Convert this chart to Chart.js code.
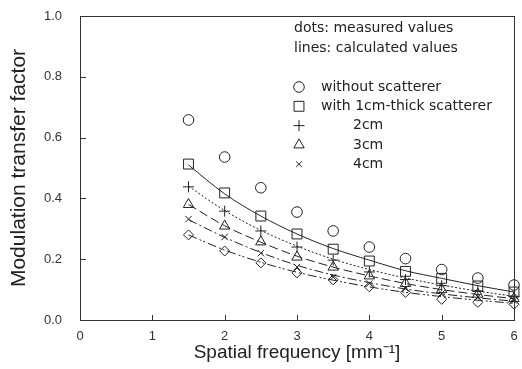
<!DOCTYPE html>
<html>
<head>
<meta charset="utf-8">
<script src="https://cdn.jsdelivr.net/npm/chart.js@4/dist/chart.umd.min.js"></script>
<style>
  html, body { margin: 0; padding: 0; background: #fff; }
  #wrap { position: relative; width: 522px; height: 369px; }
  #mtfChart { position: absolute; left: 0; top: 0; }
  #box { position: absolute; box-sizing: border-box; border: 1px solid #333; pointer-events: none; }
</style>
</head>
<body>
<div id="wrap">
  <canvas id="mtfChart" width="522" height="369"></canvas>
  <div id="box"></div>
</div>
<script>
// spatial frequency [mm^-1]
var freq = [1.5, 2, 2.5, 3, 3.5, 4, 4.5, 5, 5.5, 6];

// measured values
var measNone    = [0.658, 0.536, 0.435, 0.355, 0.293, 0.240, 0.202, 0.166, 0.138, 0.115];
var meas1cm     = [0.513, 0.418, 0.342, 0.283, 0.233, 0.194, 0.160, 0.137, 0.112, 0.092];
var meas2cm     = [0.438, 0.358, 0.293, 0.240, 0.197, 0.158, 0.133, 0.113, 0.094, 0.078];
var meas3cm     = [0.380, 0.309, 0.257, 0.207, 0.174, 0.145, 0.120, 0.100, 0.085, 0.071];
var meas4cm     = [0.332, 0.273, 0.220, 0.174, 0.141, 0.120, 0.104, 0.088, 0.076, 0.064];
var measDiamond = [0.280, 0.227, 0.188, 0.155, 0.132, 0.109, 0.091, 0.068, 0.058, 0.052];

// calculated values
var calc1cm     = [0.510, 0.415, 0.342, 0.283, 0.235, 0.197, 0.162, 0.137, 0.113, 0.092];
var calc2cm     = [0.440, 0.360, 0.295, 0.243, 0.200, 0.166, 0.138, 0.115, 0.095, 0.078];
var calc3cm     = [0.380, 0.310, 0.256, 0.210, 0.174, 0.145, 0.120, 0.100, 0.084, 0.070];
var calc4cm     = [0.330, 0.272, 0.222, 0.180, 0.148, 0.123, 0.102, 0.086, 0.073, 0.062];
var calcDiamond = [0.280, 0.230, 0.190, 0.157, 0.131, 0.109, 0.091, 0.077, 0.065, 0.055];

var xTicks = [0, 1, 2, 3, 4, 5, 6];
var yTicks = [0.0, 0.2, 0.4, 0.6, 0.8, 1.0];

var legendHead = ['dots: measured values', 'lines: calculated values'];
var legendText = ['without scatterer', 'with 1cm-thick scatterer', '2cm', '3cm', '4cm'];
var legendMarks = ['circle', 'rect', 'cross', 'triangle', 'crossRot'];
var legendSizes = [5.3, 7, 5.5, 6, 4];

var INK = '#222';
var AXIS = '#333';
var SANS = '"Liberation Sans", Arial, sans-serif';
var WIDE = '"DejaVu Sans", sans-serif';

function pts(values) {
  return values.map(function(v, i) { return { x: freq[i], y: v }; });
}

function dotSet(values, style, r) {
  return {
    data: pts(values),
    showLine: false,
    pointStyle: style,
    pointRadius: r,
    pointBorderWidth: 1,
    pointBorderColor: INK,
    pointBackgroundColor: 'rgba(0,0,0,0)'
  };
}

function lineSet(values, dash) {
  return {
    data: pts(values),
    showLine: true,
    pointRadius: 0,
    borderColor: INK,
    borderWidth: 1,
    borderDash: dash,
    cubicInterpolationMode: 'monotone',
    fill: false
  };
}

// scale boxes: fixed size, no extra label padding
function fixBox(size) {
  return function(s) {
    if (s.isHorizontal()) s.height = size; else s.width = size;
    s.paddingTop = 0;
    s.paddingBottom = 0;
    s.paddingLeft = 0;
    s.paddingRight = 0;
  };
}

// frame box, inward ticks and the text legend
var framePlugin = {
  id: 'frame',
  afterDraw: function(chart) {
    var c = chart.ctx;
    var xs = chart.scales.x, ys = chart.scales.y;
    var L = Math.round(xs.left), R = Math.round(xs.right);
    var T = Math.round(ys.top), B = Math.round(ys.bottom);

    // the box itself also sits on top of the canvas as an outlined div
    var box = document.getElementById('box');
    box.style.left = L + 'px';
    box.style.top = T + 'px';
    box.style.width = (R - L + 1) + 'px';
    box.style.height = (B - T + 1) + 'px';

    c.save();
    c.setLineDash([]);
    c.strokeStyle = AXIS;
    c.lineWidth = 1;
    c.beginPath();
    c.rect(L + 0.5, T + 0.5, R - L, B - T);
    xTicks.slice(1, -1).forEach(function(t) {
      var px = Math.round(xs.getPixelForValue(t)) + 0.5;
      c.moveTo(px, B);
      c.lineTo(px, B - 5);
    });
    yTicks.slice(1, -1).forEach(function(t) {
      var py = Math.round(ys.getPixelForValue(t)) + 0.5;
      c.moveTo(L, py);
      c.lineTo(L + 6, py);
    });
    c.stroke();

    c.fillStyle = INK;
    c.font = '14px ' + WIDE;
    c.textBaseline = 'middle';
    c.textAlign = 'left';
    legendHead.forEach(function(t, i) {
      c.fillText(t, 294, 28 + i * 20);
    });
    c.strokeStyle = INK;
    legendText.forEach(function(t, i) {
      var y = 87 + i * 19.3;
      c.fillStyle = 'rgba(0,0,0,0)';
      Chart.helpers.drawPoint(c, {
        pointStyle: legendMarks[i], radius: legendSizes[i], rotation: 0, borderWidth: 1
      }, 299, y);
      c.fillStyle = INK;
      c.fillText(t, i < 2 ? 321 : 353, y);
    });
    c.restore();
  }
};

var ctx = document.getElementById('mtfChart').getContext('2d');
var mtfChart = new Chart(ctx, {
  type: 'scatter',
  data: {
    datasets: [
      lineSet(calc1cm, []),
      lineSet(calc2cm, [2, 2]),
      lineSet(calc3cm, [9, 4]),
      lineSet(calc4cm, [9, 3, 2, 3]),
      lineSet(calcDiamond, [9, 3, 2, 2, 2, 3]),
      dotSet(measNone, 'circle', 5.3),
      dotSet(meas1cm, 'rect', 7),
      dotSet(meas2cm, 'cross', 5.5),
      dotSet(meas3cm, 'triangle', 6),
      dotSet(meas4cm, 'crossRot', 4.5),
      dotSet(measDiamond, 'rectRot', 5)
    ]
  },
  options: {
    responsive: false,
    animation: false,
    clip: false,
    layout: { padding: { left: 0, right: 5, top: 16, bottom: 0 } },
    plugins: {
      legend: { display: false },
      tooltip: { enabled: false }
    },
    scales: {
      x: {
        type: 'linear',
        min: 0,
        max: 6,
        afterBuildTicks: function(s) { s.ticks = xTicks.map(function(v) { return { value: v }; }); },
        afterFit: fixBox(49),
        grid: { display: false, drawTicks: false },
        border: { display: true, color: AXIS, width: 1 },
        ticks: {
          color: '#333',
          font: { family: SANS, size: 13 },
          padding: 9
        },
        title: {
          display: true,
          text: 'Spatial frequency [mm⁻¹]',
          color: INK,
          font: { family: SANS, size: 19 },
          padding: { top: 0, bottom: 5 }
        }
      },
      y: {
        type: 'linear',
        min: 0,
        max: 1,
        afterBuildTicks: function(s) { s.ticks = yTicks.map(function(v) { return { value: v }; }); },
        afterFit: fixBox(80),
        grid: { display: false, drawTicks: false },
        border: { display: true, color: AXIS, width: 1 },
        ticks: {
          color: '#333',
          font: { family: SANS, size: 13 },
          padding: 18,
          callback: function(v) { return Number(v).toFixed(1); }
        },
        title: {
          display: true,
          text: 'Modulation transfer factor',
          color: INK,
          font: { family: SANS, size: 21 },
          padding: { top: 7, bottom: 0 }
        }
      }
    }
  },
  plugins: [framePlugin]
});
</script>
</body>
</html>
